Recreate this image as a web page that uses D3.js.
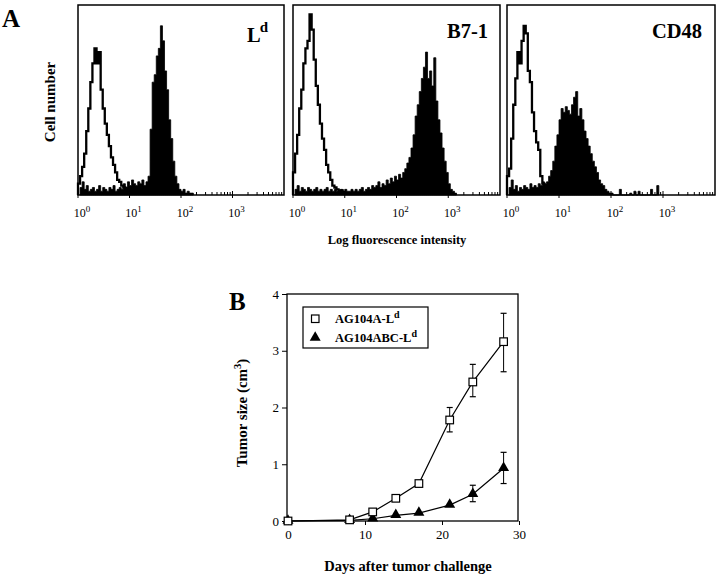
<!DOCTYPE html>
<html>
<head>
<meta charset="utf-8">
<script src="https://cdn.jsdelivr.net/npm/d3@7"></script>
<style>
  html, body { margin: 0; padding: 0; background: #fff; }
  svg { display: block; }
  text { font-family: "Liberation Serif", "Times New Roman", serif; fill: #000; }
</style>
</head>
<body>
<svg id="chart" width="720" height="578"></svg>
<script>
// ---------- DATA ----------
// Panel A: flow cytometry histograms (log10 channel bins, step 0.04 decades; heights as fraction of full scale)
const histMarkers = ["L", "B7-1", "CD48"];
const histBinStep = 0.04;
const histDecadeTicks = [0, 1, 2, 3];

const ldOpenStart = 0.0;
const ldOpen = [0.06,0.1,0.15,0.22,0.34,0.46,0.6,0.7,0.78,0.7,0.76,0.56,0.46,0.38,0.32,0.26,0.2,0.16,0.12,0.08,0.07,0.05,0.04,0.035,0.03,0.02,0.01];
const ldFilledStart = 0.04;
const ldFilled = [0.04,0.07,0.03,0.05,0.02,0.03,0.04,0.02,0.03,0.05,0.02,0.04,0.03,0.02,0.04,0.03,0.05,0.02,0.03,0.04,0.03,0.06,0.04,0.07,0.05,0.08,0.06,0.05,0.07,0.06,0.08,0.05,0.07,
  0.1,0.35,0.6,0.64,0.74,0.78,0.9,0.82,0.66,0.56,0.4,0.3,0.18,0.1,0.06,0.03,0.02,0.03,0.01,0.02,0.01,0.01];

const b71OpenStart = 0.0;
const b71Open = [0.12,0.22,0.32,0.46,0.56,0.7,0.78,0.82,0.96,0.88,0.72,0.58,0.48,0.38,0.3,0.24,0.16,0.12,0.08,0.05,0.04,0.03,0.02,0.025,0.015,0.01];
const b71FilledStart = 0.04;
const b71Filled = [0.03,0.05,0.02,0.04,0.03,0.02,0.04,0.03,0.02,0.03,0.04,0.02,0.03,0.02,0.03,0.04,0.02,0.03,0.02,0.03,0.02,0.02,0.03,0.02,0.03,0.02,0.02,0.03,0.02,0.03,0.02,0.03,0.04,0.02,0.03,0.04,0.03,0.05,0.04,
  0.05,0.07,0.04,0.06,0.05,0.08,0.06,0.09,0.07,0.1,0.08,0.11,0.09,0.12,0.14,0.17,0.2,0.25,0.32,0.42,0.48,0.55,0.62,0.68,0.76,0.62,0.66,0.58,0.73,0.5,0.4,0.33,0.25,0.18,0.12,0.06,0.03,0.02,0.01];

const cd48OpenStart = 0.0;
const cd48Open = [0.1,0.14,0.3,0.48,0.62,0.76,0.7,0.82,0.9,0.86,0.66,0.6,0.44,0.34,0.28,0.24,0.1,0.06,0.04,0.03,0.02,0.01];
const cd48FilledStart = 0.04;
const cd48Filled = [0.04,0.08,0.03,0.05,0.02,0.04,0.03,0.05,0.04,0.03,0.06,0.04,0.05,0.04,0.06,0.05,0.07,0.06,
  0.07,0.1,0.13,0.18,0.26,0.32,0.4,0.46,0.44,0.47,0.45,0.43,0.48,0.52,0.55,0.42,0.46,0.4,0.34,0.3,0.26,0.22,0.18,0.15,0.12,0.08,0.06,0.05,0.03,0.02,0.01,0.01,
  0,0,0,0.03,0,0,0,0,0.01,0,0.02,0,0.02,0,0,0,0,0,0.03,0,0,0.05];

// Panel B: tumor growth
const days = [0, 8, 11, 14, 17, 21, 24, 28];
const seriesNames = ["AG104A-L", "AG104ABC-L"];
const ag104A = [0, 0.02, 0.16, 0.40, 0.66, 1.78, 2.45, 3.16];
const ag104AErrLo = [null, null, null, null, null, 1.57, 2.19, 2.63];
const ag104AErrHi = [null, null, null, null, null, 2.00, 2.76, 3.66];
const ag104ABC = [0, 0.01, 0.04, 0.10, 0.14, 0.28, 0.47, 0.93];
const ag104ABCErrLo = [null, null, null, null, null, null, 0.34, 0.66];
const ag104ABCErrHi = [null, null, null, null, null, null, 0.63, 1.21];
const xTicksB = [0, 10, 20, 30];
const yTicksB = [0, 1, 2, 3, 4];

// ---------- DRAW ----------
const svg = d3.select("#chart");
svg.append("rect").attr("width", 720).attr("height", 578).attr("fill", "#fff");

const serif = '"Liberation Serif", "Times New Roman", serif';

// Panel letters
svg.append("text").attr("x", 2).attr("y", 27).attr("font-size", 25).attr("font-weight", "bold").text("A");
svg.append("text").attr("x", 229).attr("y", 310).attr("font-size", 25).attr("font-weight", "bold").text("B");

// ---- Panel A ----
const boxes = [
  {x0: 78, x1: 284, open: ldOpen, openStart: ldOpenStart, filled: ldFilled, filledStart: ldFilledStart, labelX: 268, labelY: 41.5, sup: "d"},
  {x0: 293, x1: 500, open: b71Open, openStart: b71OpenStart, filled: b71Filled, filledStart: b71FilledStart, labelX: 488, labelY: 37.5, sup: null},
  {x0: 507, x1: 715, open: cd48Open, openStart: cd48OpenStart, filled: cd48Filled, filledStart: cd48FilledStart, labelX: 702, labelY: 37.5, sup: null}
];
const hTop = 5, hBot = 195;
const hy = d3.scaleLinear().domain([0, 1]).range([hBot, hTop + 2]);

function binPoints(arr, start) {
  const pts = arr.map((v, i) => ({lg: start + i * histBinStep, v}));
  pts.unshift({lg: start, v: 0});
  pts.push({lg: start + arr.length * histBinStep, v: 0});
  return pts;
}

boxes.forEach((b, i) => {
  const g = svg.append("g");
  const hx = d3.scaleLog().domain([1, 1e4]).range([b.x0, b.x1]);
  const lx = lg => hx(Math.pow(10, lg));

  // filled histogram
  const fp = binPoints(b.filled, b.filledStart);
  const area = d3.area().curve(d3.curveStepAfter).x(d => lx(d.lg)).y0(hBot).y1(d => hy(d.v));
  g.append("path").attr("d", area(fp)).attr("fill", "#000").attr("stroke", "#000").attr("stroke-width", 0.8);

  // open histogram (outline)
  const op = binPoints(b.open, b.openStart);
  const line = d3.line().curve(d3.curveStepAfter).x(d => lx(d.lg)).y(d => hy(d.v));
  g.append("path").attr("d", line(op)).attr("fill", "none").attr("stroke", "#000").attr("stroke-width", 2.3).attr("stroke-linejoin", "miter");

  // box
  g.append("rect").attr("x", b.x0).attr("y", hTop).attr("width", b.x1 - b.x0).attr("height", hBot - hTop)
    .attr("fill", "none").attr("stroke", "#000").attr("stroke-width", 1.5);

  // log ticks
  const minor = [];
  for (let d = 0; d < 4; d++) for (let m = 2; m <= 9; m++) minor.push(m * Math.pow(10, d));
  g.selectAll(".mn").data(minor).enter().append("line")
    .attr("x1", d => hx(d)).attr("x2", d => hx(d)).attr("y1", hBot).attr("y2", hBot - 3)
    .attr("stroke", "#000").attr("stroke-width", 1);
  g.selectAll(".mj").data(histDecadeTicks).enter().append("line")
    .attr("x1", d => hx(Math.pow(10, d))).attr("x2", d => hx(Math.pow(10, d))).attr("y1", hBot - 4).attr("y2", hBot + 3)
    .attr("stroke", "#000").attr("stroke-width", 1);

  // tick labels 10^n
  histDecadeTicks.forEach(d => {
    const t = g.append("text").attr("x", hx(Math.pow(10, d)) + 4).attr("y", 217)
      .attr("text-anchor", "middle").attr("font-size", 12);
    t.append("tspan").text("10");
    t.append("tspan").attr("dy", -5).attr("font-size", 9).text(String(d));
  });

  // marker label
  const lt = g.append("text").attr("x", b.labelX).attr("y", b.labelY).attr("text-anchor", "end")
    .attr("font-size", 20.5).attr("font-weight", "bold");
  lt.append("tspan").text(histMarkers[i]);
  if (b.sup) lt.append("tspan").attr("dx", -1).attr("dy", -9.5).attr("font-size", 15).text(b.sup);
});

svg.append("text").attr("transform", "translate(55,102) rotate(-90)").attr("text-anchor", "middle")
  .attr("font-size", 15).attr("font-weight", "bold").text("Cell number");
svg.append("text").attr("x", 397).attr("y", 244).attr("text-anchor", "middle")
  .attr("font-size", 12.5).attr("font-weight", "bold").text("Log fluorescence intensity");

// ---- Panel B ----
const bx0 = 287, bx1 = 518, byTop = 294, byBot = 521;
const x = d3.scaleLinear().domain([0, 30]).range([288, 519]);
const y = d3.scaleLinear().domain([0, 4]).range([521, 294]);

const gB = svg.append("g");
gB.append("rect").attr("x", bx0).attr("y", byTop).attr("width", bx1 - bx0).attr("height", byBot - byTop)
  .attr("fill", "none").attr("stroke", "#000").attr("stroke-width", 1.3);

const yAxis = gB.append("g").attr("transform", `translate(${bx0},0)`)
  .call(d3.axisLeft(y).tickValues(yTicksB).tickSize(5).tickPadding(3).tickFormat(d3.format("d")));
const xAxis = gB.append("g").attr("transform", `translate(0,${byBot})`)
  .call(d3.axisBottom(x).tickValues(xTicksB).tickSize(4).tickPadding(5).tickFormat(d3.format("d")));
[yAxis, xAxis].forEach(a => {
  a.select(".domain").remove();
  a.selectAll("text").attr("font-family", serif).attr("font-size", 13).attr("fill", "#000");
  a.selectAll("line").attr("stroke", "#000").attr("stroke-width", 1);
});

const lineGen = d3.line().x((d, i) => x(days[i])).y(d => y(d));

function drawErr(vals, lo, hi) {
  days.forEach((dd, i) => {
    if (lo[i] == null) return;
    const cx = x(dd);
    gB.append("line").attr("x1", cx).attr("x2", cx).attr("y1", y(lo[i])).attr("y2", y(hi[i])).attr("stroke", "#000").attr("stroke-width", 1);
    [lo[i], hi[i]].forEach(v => gB.append("line").attr("x1", cx - 3).attr("x2", cx + 3).attr("y1", y(v)).attr("y2", y(v)).attr("stroke", "#000").attr("stroke-width", 1.2));
  });
}

// triangles series
gB.append("path").attr("d", lineGen(ag104ABC)).attr("fill", "none").attr("stroke", "#000").attr("stroke-width", 1.2);
drawErr(ag104ABC, ag104ABCErrLo, ag104ABCErrHi);
gB.selectAll(".tri").data(ag104ABC).enter().append("path")
  .attr("d", d3.symbol().type(d3.symbolTriangle).size(52))
  .attr("transform", (d, i) => `translate(${x(days[i])},${y(d) - 0.5})`)
  .attr("fill", "#000");

// squares series
gB.append("path").attr("d", lineGen(ag104A)).attr("fill", "none").attr("stroke", "#000").attr("stroke-width", 1.2);
drawErr(ag104A, ag104AErrLo, ag104AErrHi);
gB.selectAll(".sq").data(ag104A).enter().append("rect")
  .attr("x", (d, i) => x(days[i]) - 3.8).attr("y", d => y(d) - 3.8).attr("width", 7.6).attr("height", 7.6)
  .attr("fill", "#fff").attr("stroke", "#000").attr("stroke-width", 1.2);

// legend
const lg = gB.append("g");
lg.append("rect").attr("x", 303).attr("y", 307).attr("width", 125).attr("height", 41)
  .attr("fill", "#fff").attr("stroke", "#000").attr("stroke-width", 1.2);
lg.append("rect").attr("x", 311.5).attr("y", 315).attr("width", 7.5).attr("height", 7.5)
  .attr("fill", "#fff").attr("stroke", "#000").attr("stroke-width", 1.2);
lg.append("path").attr("d", d3.symbol().type(d3.symbolTriangle).size(52)).attr("transform", "translate(315.2,337.5)").attr("fill", "#000");
[[seriesNames[0], 323], [seriesNames[1], 342]].forEach(([name, yy]) => {
  const t = lg.append("text").attr("x", 335).attr("y", yy).attr("font-size", 12.5).attr("font-weight", "bold");
  t.append("tspan").text(name);
  t.append("tspan").attr("dy", -5).attr("font-size", 10).text("d");
});

// axis titles
const yt = svg.append("text").attr("transform", "translate(247,413) rotate(-90)").attr("text-anchor", "middle")
  .attr("font-size", 15).attr("font-weight", "bold");
yt.append("tspan").text("Tumor size (cm");
yt.append("tspan").attr("dy", -6).attr("font-size", 10.5).text("3");
yt.append("tspan").attr("dy", 6).text(")");
svg.append("text").attr("x", 408).attr("y", 571).attr("text-anchor", "middle")
  .attr("font-size", 14.5).attr("font-weight", "bold").text("Days after tumor challenge");
</script>
</body>
</html>
